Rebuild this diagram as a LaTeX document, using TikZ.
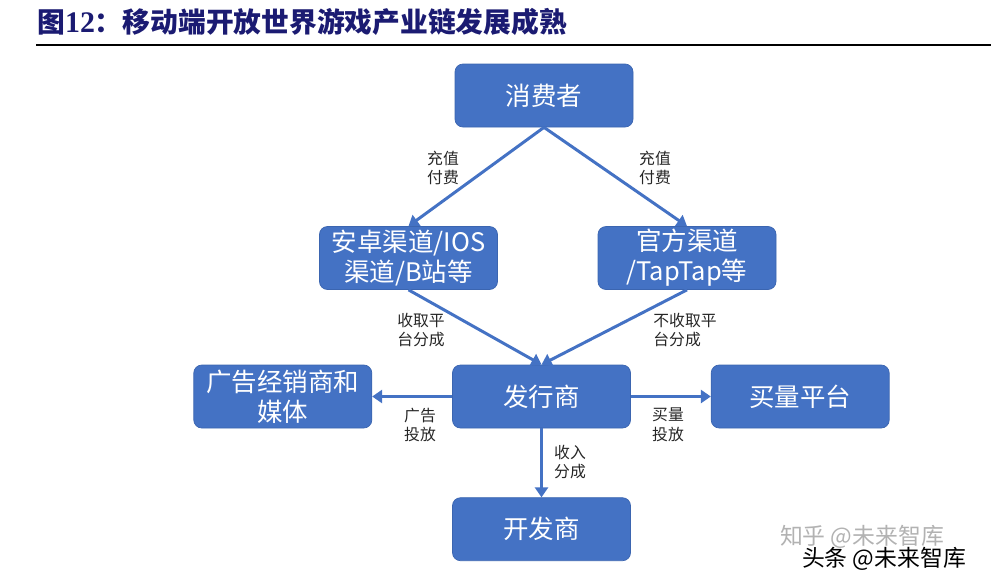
\documentclass[tikz,border=0pt]{standalone}
\usepackage{fontspec}
\setmainfont{Noto Sans CJK SC}
\newfontfamily\titlenum{Liberation Serif}
\usetikzlibrary{arrows.meta, positioning}
\definecolor{boxblue}{HTML}{4472C4}
\definecolor{boxedge}{HTML}{3B65B0}
\definecolor{titleblue}{HTML}{1B1B72}

\begin{document}
\begin{tikzpicture}[
x=0.2mm, y=-0.2mm,
node distance=13.8mm and 16mm,
box/.style={rectangle, rounded corners=1.6mm, draw=boxedge, fill=boxblue, text=white, align=center, minimum width=35.6mm, minimum height=12.6mm, inner sep=1pt, font=\fontsize{14.5}{17}\selectfont},
note/.style={align=left, inner sep=1pt, text=black!85, font=\fontsize{9}{11.3}\selectfont},
line/.style={draw=boxblue, line width=1.7pt, -{Triangle[length=2mm, width=2.6mm]}}
]
\useasboundingbox (0,0) rectangle (991,582);

% title
\node[anchor=west, inner sep=0pt, text=titleblue, font=\fontsize{15.8}{18}\bfseries\selectfont] (title) at (37,22) {图{\titlenum\bfseries\fontsize{17}{18}\selectfont 12}：移动端开放世界游戏产业链发展成熟};
\coordinate (rulel) at (36,45);
\coordinate (ruler) at (991,45);
\draw[line width=1.2pt] (rulel) -- (ruler);

\node[box] (consumer) at (544,95.5) {消费者};
\node[box] (android) at (408.5,258) {安卓渠道/IOS\\渠道/B站等};
\node[box] (official) at (687,258) {官方渠道\\/TapTap等};
\node[box] (publisher) at (541.5,396.5) {发行商};
\node[box, left=of publisher] (admedia) {广告经销商和\\媒体};
\node[box, right=of publisher] (buyplat) {买量平台};
\node[box, below=of publisher] (developer) {开发商};

\node[note] (pay1) at (443,168) {充值\\付费};
\node[note] (pay2) at (655,168) {充值\\付费};
\node[note] (cut1) at (421,330) {收取平\\台分成};
\node[note] (cut2) at (685,330) {不收取平\\台分成};
\node[note] (adput) at (420,425) {广告\\投放};
\node[note] (buyput) at (668,425) {买量\\投放};
\node[note] (income) at (570,462) {收入\\分成};

\draw[line] (consumer.south) -- (android.north);
\draw[line] (consumer.south) -- (official.north);
\draw[line] (android.south) -- (publisher.north);
\draw[line] (official.south) -- (publisher.north);
\draw[line] (publisher) -- (admedia);
\draw[line] (publisher) -- (buyplat);
\draw[line] (publisher) -- (developer);

% watermark
\node[text=black!30, font=\fontsize{13}{15}\selectfont] (mark1) at (862,537) {知乎 @未来智库};
\node[text=black, font=\fontsize{13}{15}\selectfont] (mark2) at (884,559) {头条 @未来智库};

\end{tikzpicture}
\end{document}
